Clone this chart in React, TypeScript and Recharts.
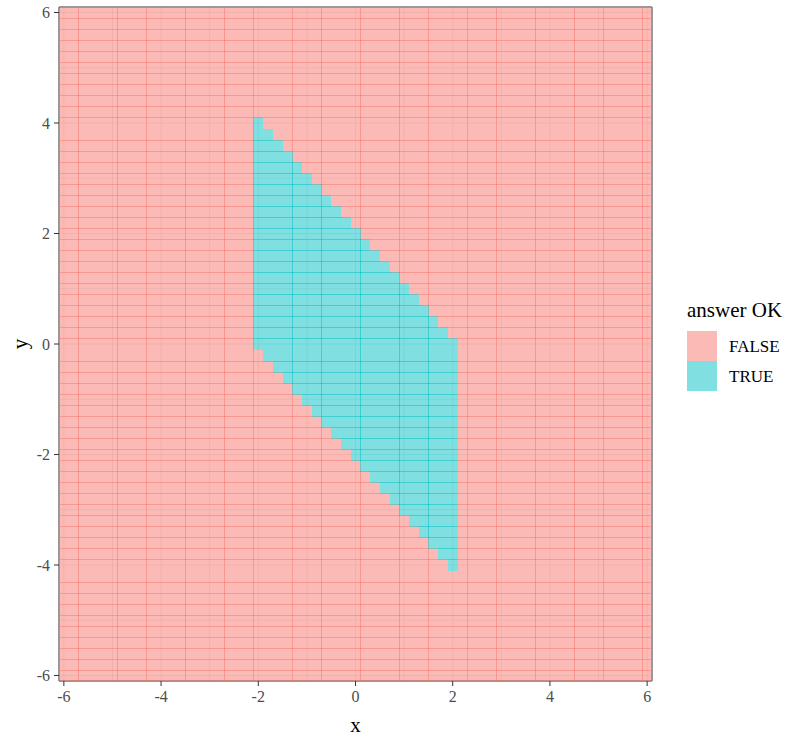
import React from 'react';
import {
    ScatterChart,
    Scatter,
    XAxis,
    YAxis,
    CartesianGrid,
    ReferenceArea,
} from 'recharts';

// tile centres of the 0.2 x 0.2 grid
const GRID_X = [-6, -5.8, -5.6, -5.4, -5.2, -5, -4.8, -4.6, -4.4, -4.2, -4, -3.8, -3.6, -3.4, -3.2, -3, -2.8, -2.6, -2.4, -2.2, -2, -1.8, -1.6, -1.4, -1.2, -1, -0.8, -0.6, -0.4, -0.2, 0, 0.2, 0.4, 0.6, 0.8, 1, 1.2, 1.4, 1.6, 1.8, 2, 2.2, 2.4, 2.6, 2.8, 3, 3.2, 3.4, 3.6, 3.8, 4, 4.2, 4.4, 4.6, 4.8, 5, 5.2, 5.4, 5.6, 5.8, 6];
const GRID_Y = [-6, -5.8, -5.6, -5.4, -5.2, -5, -4.8, -4.6, -4.4, -4.2, -4, -3.8, -3.6, -3.4, -3.2, -3, -2.8, -2.6, -2.4, -2.2, -2, -1.8, -1.6, -1.4, -1.2, -1, -0.8, -0.6, -0.4, -0.2, 0, 0.2, 0.4, 0.6, 0.8, 1, 1.2, 1.4, 1.6, 1.8, 2, 2.2, 2.4, 2.6, 2.8, 3, 3.2, 3.4, 3.6, 3.8, 4, 4.2, 4.4, 4.6, 4.8, 5, 5.2, 5.4, 5.6, 5.8, 6];

// columns where answer OK is TRUE, with highest and lowest TRUE tile per column
const TRUE_X = [-2, -1.8, -1.6, -1.4, -1.2, -1, -0.8, -0.6, -0.4, -0.2, 0, 0.2, 0.4, 0.6, 0.8, 1, 1.2, 1.4, 1.6, 1.8, 2];
const TRUE_TOP = [4, 3.8, 3.6, 3.4, 3.2, 3, 2.8, 2.6, 2.4, 2.2, 2, 1.8, 1.6, 1.4, 1.2, 1, 0.8, 0.6, 0.4, 0.2, 0];
const TRUE_BOTTOM = [0, -0.2, -0.4, -0.6, -0.8, -1, -1.2, -1.4, -1.6, -1.8, -2, -2.2, -2.4, -2.6, -2.8, -3, -3.2, -3.4, -3.6, -3.8, -4];

const TICKS = [-6, -4, -2, 0, 2, 4, 6];
const GRID_LINES = [-6, -5, -4, -3, -2, -1, 0, 1, 2, 3, 4, 5, 6];
const LEGEND_ITEMS = [
    { label: 'FALSE', color: '#F8766D' },
    { label: 'TRUE', color: '#00BFC4' },
];

const FONT = '"Liberation Serif", serif';
const PLOT_W = 593;
const PLOT_H = 674;
const CELL_W = (PLOT_W * 0.2) / 12.2;
const CELL_H = (PLOT_H * 0.2) / 12.2;

const falseCells: { x: number; y: number }[] = [];
const trueCells: { x: number; y: number }[] = [];
GRID_X.forEach((x) => {
    const col = TRUE_X.findIndex((t) => Math.abs(t - x) < 1e-6);
    GRID_Y.forEach((y) => {
        const ok = col >= 0 && y <= TRUE_TOP[col] + 1e-6 && y >= TRUE_BOTTOM[col] - 1e-6;
        (ok ? trueCells : falseCells).push({ x, y });
    });
});

const makeTile = (color: string) => (props: any) => {
    const { cx, cy } = props;
    if (cx == null || cy == null) return <g />;
    return (
        <rect
            x={Math.round(cx - CELL_W / 2)}
            y={Math.round(cy - CELL_H / 2)}
            width={Math.round(CELL_W)}
            height={Math.round(CELL_H) + 1}
            fill={color}
            fillOpacity={0.5}
            shapeRendering="crispEdges"
        />
    );
};

const XTick = (props: any) => (
    <text x={props.x} y={props.y} dy="0.71em" textAnchor="middle" fontSize={16} fill="#4D4D4D" fontFamily={FONT}>
        {String(props.payload.value)}
    </text>
);

const YTick = (props: any) => (
    <text x={props.x} y={props.y} dy="0.35em" textAnchor="end" fontSize={16} fill="#4D4D4D" fontFamily={FONT}>
        {String(props.payload.value)}
    </text>
);

function LegendBox() {
    return (
        <svg
            width={119}
            height={100}
            style={{ position: 'absolute', left: 687, top: 295, fontFamily: FONT }}
        >
            <text x={0} y={22} fontSize={21} fill="#000">answer OK</text>
            {LEGEND_ITEMS.map((item, i) => (
                <g key={item.label}>
                    <rect x={0} y={36 + i * 30} width={30} height={30} fill={item.color} fillOpacity={0.5} />
                    <text x={42} y={57 + i * 30} fontSize={17} fill="#000">{item.label}</text>
                </g>
            ))}
        </svg>
    );
}

export default function App() {
    return (
        <div style={{ position: 'absolute', left: 0, top: 0, width: 806, height: 740, background: '#fff', fontFamily: FONT }}>
            <ScatterChart
                width={806}
                height={740}
                margin={{ top: 7, right: 154, left: 0, bottom: 0 }}
                style={{ fontFamily: FONT }}
            >
                <CartesianGrid
                    stroke="#EBEBEB"
                    verticalValues={GRID_LINES}
                    horizontalValues={GRID_LINES}
                />
                <XAxis
                    type="number"
                    dataKey="x"
                    domain={[-6.1, 6.1]}
                    allowDataOverflow
                    ticks={TICKS}
                    height={59}
                    axisLine={false}
                    tickLine={{ stroke: '#333' }}
                    tickSize={5}
                    tickMargin={5}
                    tick={XTick}
                    label={{ value: 'x', position: 'insideBottom', offset: 8, fontSize: 21, fill: '#000', fontFamily: FONT }}
                />
                <YAxis
                    type="number"
                    dataKey="y"
                    domain={[-6.1, 6.1]}
                    allowDataOverflow
                    ticks={TICKS}
                    width={59}
                    axisLine={false}
                    tickLine={{ stroke: '#333' }}
                    tickSize={5}
                    tickMargin={4}
                    tick={YTick}
                    label={{ value: 'y', angle: -90, position: 'insideLeft', offset: 20, fontSize: 21, fill: '#000', fontFamily: FONT, style: { textAnchor: 'middle' } }}
                />
                <Scatter data={falseCells} shape={makeTile('#F8766D')} isAnimationActive={false} />
                <Scatter data={trueCells} shape={makeTile('#00BFC4')} isAnimationActive={false} />
                <ReferenceArea
                    x1={-6.1}
                    x2={6.1}
                    y1={-6.1}
                    y2={6.1}
                    fill="none"
                    stroke="#333"
                    strokeWidth={1}
                    ifOverflow="visible"
                />
            </ScatterChart>
            <LegendBox />
        </div>
    );
}
